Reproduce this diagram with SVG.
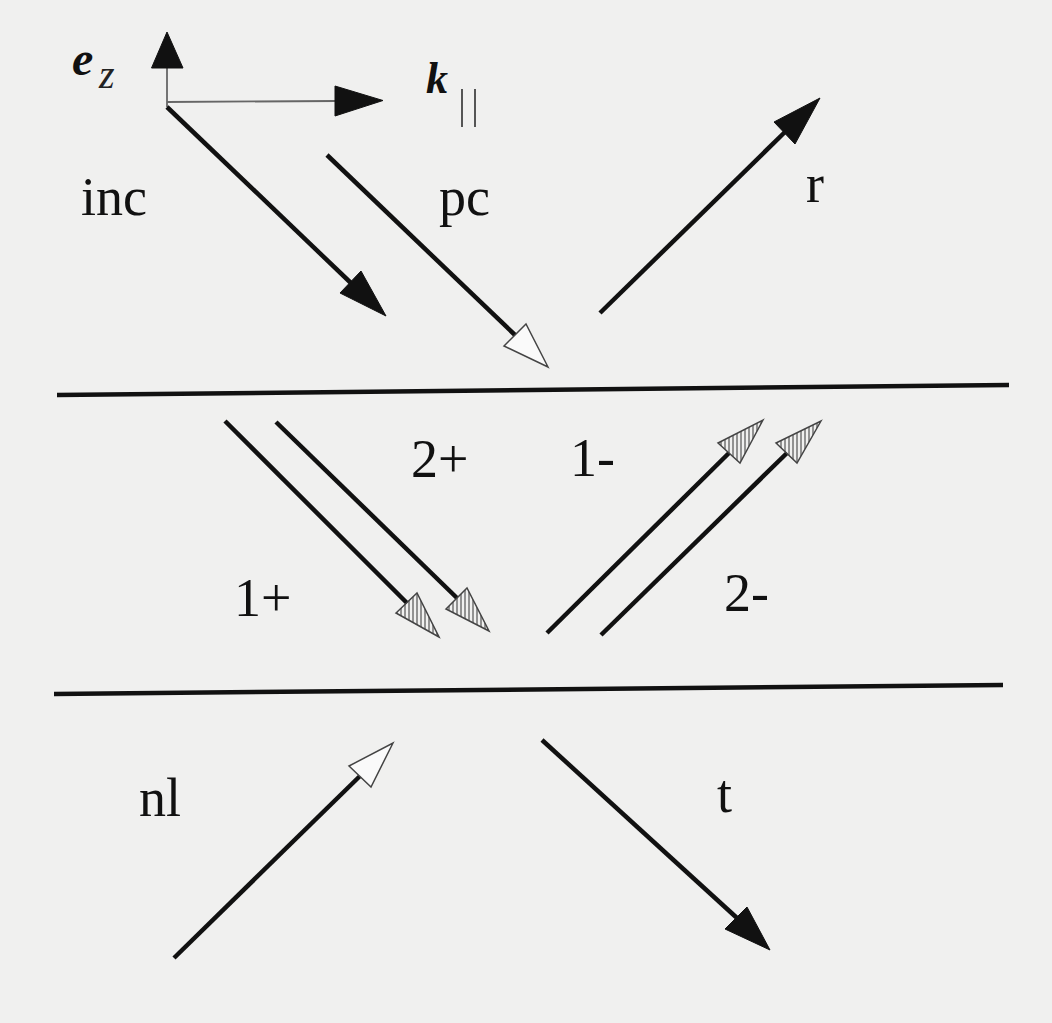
<svg xmlns="http://www.w3.org/2000/svg" width="1052" height="1023" viewBox="0 0 1052 1023">
  <defs>
    <pattern id="hatch" patternUnits="userSpaceOnUse" width="4" height="4">
      <line x1="1" y1="0" x2="1" y2="4" stroke="#333" stroke-width="1"/>
    </pattern>
  </defs>
  <style>
    .shaft { stroke: #111; stroke-width: 4.5; stroke-linecap: butt; fill: none; }
    .axis { stroke: #666; stroke-width: 1.8; fill: none; }
    .iface { stroke: #111; stroke-width: 4.5; fill: none; }
    .solid { fill: #111; stroke: #111; stroke-width: 1; stroke-linejoin: miter; }
    .open { fill: #fafafa; stroke: #444; stroke-width: 1.5; }
    .hatched { fill: url(#hatch); stroke: #444; stroke-width: 1.5; }
    text { font-family: 'Liberation Serif', 'DejaVu Serif', 'Times New Roman', serif; }
    .lbl { font-size: 54px; fill: #111; }
    .vec { font-weight: bold; font-style: italic; fill: #111; }
    .sub { font-style: italic; fill: #222; }
  </style>
  <rect x="0" y="0" width="1052" height="1023" fill="#f0f0ef"/>

  <g id="interfaces">
    <line class="iface" x1="57" y1="395" x2="1009" y2="385"/>
    <line class="iface" x1="54" y1="694" x2="1003" y2="685"/>
  </g>

  <g id="connectors">
    <g id="axis-ez">
      <line class="axis" x1="167" y1="107" x2="167" y2="68"/>
      <polygon class="solid" points="167,32 183,68 151.5,68"/>
    </g>
    <g id="axis-k">
      <line class="axis" x1="167" y1="102" x2="336" y2="101"/>
      <polygon class="solid" points="383,100.5 335,86 335,116"/>
    </g>
    <g id="arrow-inc">
      <line class="shaft" x1="167" y1="107" x2="352" y2="284"/>
      <polygon class="solid" points="386,316 340,293 361,271"/>
    </g>
    <g id="arrow-pc">
      <line class="shaft" x1="327" y1="155" x2="515" y2="335"/>
      <polygon class="open" points="548,367 504,346 526,324"/>
    </g>
    <g id="arrow-r">
      <line class="shaft" x1="600" y1="313" x2="786" y2="131"/>
      <polygon class="solid" points="820,98 795,144 774,122"/>
    </g>
    <g id="arrow-1plus">
      <line class="shaft" x1="225" y1="421" x2="407" y2="603"/>
      <polygon class="hatched" points="439,637 396,613 417,593"/>
    </g>
    <g id="arrow-2plus">
      <line class="shaft" x1="276" y1="422" x2="457" y2="598"/>
      <polygon class="hatched" points="489,631 446,609 467,588"/>
    </g>
    <g id="arrow-1minus">
      <line class="shaft" x1="547" y1="633" x2="729" y2="453"/>
      <polygon class="hatched" points="763,420 740,463 718,443"/>
    </g>
    <g id="arrow-2minus">
      <line class="shaft" x1="601" y1="635" x2="787" y2="453"/>
      <polygon class="hatched" points="821,421 797,463 776,443"/>
    </g>
    <g id="arrow-nl">
      <line class="shaft" x1="174" y1="958" x2="360" y2="776"/>
      <polygon class="open" points="393,743 371,787 349,766"/>
    </g>
    <g id="arrow-t">
      <line class="shaft" x1="542" y1="740" x2="737" y2="918"/>
      <polygon class="solid" points="770,950 725,929 747,907"/>
    </g>
  </g>

  <g id="label-ez">
    <text class="vec" x="72" y="75" font-size="48">e</text>
    <text class="sub" x="99" y="88" font-size="40">z</text>
  </g>
  <g id="label-k">
    <text class="vec" x="426" y="93" font-size="44">k</text>
    <line x1="462" y1="89" x2="462" y2="127" stroke="#555" stroke-width="2"/>
    <line x1="475" y1="89" x2="475" y2="127" stroke="#555" stroke-width="2"/>
  </g>
  <g id="label-inc"><text class="lbl" x="81" y="215">inc</text></g>
  <g id="label-pc"><text class="lbl" x="439" y="215">pc</text></g>
  <g id="label-r"><text class="lbl" x="806" y="202">r</text></g>
  <g id="label-2plus"><text class="lbl" x="411" y="477">2+</text></g>
  <g id="label-1minus"><text class="lbl" x="570" y="476">1-</text></g>
  <g id="label-1plus"><text class="lbl" x="234" y="616">1+</text></g>
  <g id="label-2minus"><text class="lbl" x="724" y="611">2-</text></g>
  <g id="label-nl"><text class="lbl" x="139" y="816">nl</text></g>
  <g id="label-t"><text class="lbl" x="717" y="812">t</text></g>
</svg>
